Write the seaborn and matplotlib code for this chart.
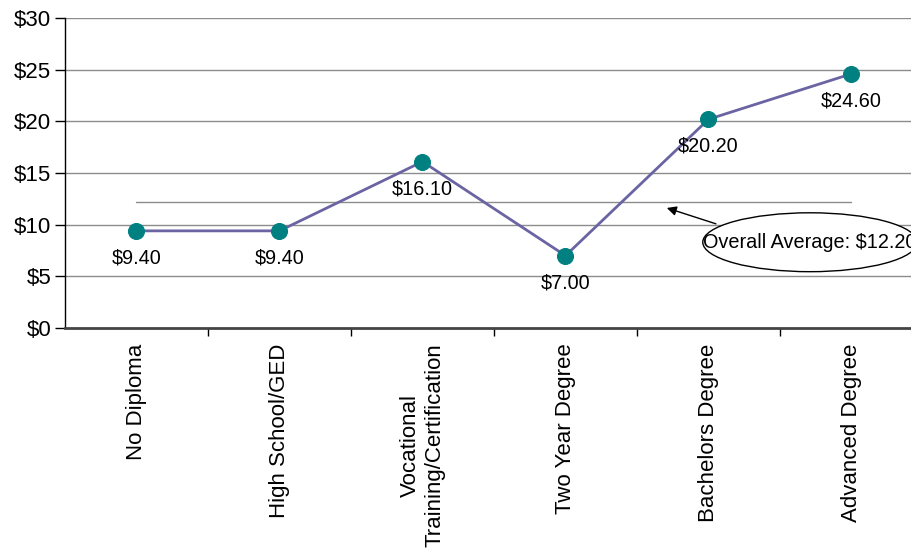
import matplotlib
matplotlib.use("Agg")
import matplotlib.pyplot as plt
from matplotlib.patches import Ellipse
import seaborn as sns
import pandas as pd
import numpy as np

categories = ["No Diploma", "High School/GED", "Vocational\nTraining/Certification",
              "Two Year Degree", "Bachelors Degree", "Advanced Degree"]
wages = [9.40, 9.40, 16.10, 7.00, 20.20, 24.60]
wage_labels = ["$9.40", "$9.40", "$16.10", "$7.00", "$20.20", "$24.60"]
overall_average = 12.20
y_ticks = [0, 5, 10, 15, 20, 25, 30]
y_tick_labels = ["$0", "$5", "$10", "$15", "$20", "$25", "$30"]

sns.set_style("white")
plt.rcParams["font.family"] = ["Liberation Sans", "DejaVu Sans"]

df = pd.DataFrame({"pos": np.arange(len(categories)), "wage": wages})

fig = plt.figure(figsize=(9.12, 5.50), dpi=100)
ax = fig.add_axes([65 / 912, 1 - 328 / 550, 858 / 912, 310 / 550])

ax.set_xlim(-0.5, len(categories) - 0.5)
ax.set_ylim(0, 30)

grid_color = "#8c8c8c"
for yv in y_ticks[1:]:
    ax.axhline(yv, color=grid_color, lw=1.0, zorder=1)

# overall average reference line
ax.plot([0, len(categories) - 1], [overall_average, overall_average],
        color=grid_color, lw=1.0, zorder=1)

sns.lineplot(data=df, x="pos", y="wage", ax=ax, color="#6a64a2", lw=2.0,
             marker="o", markersize=11.5, markerfacecolor="#008080",
             markeredgecolor="#008080", zorder=3)

for i, (v, lab) in enumerate(zip(wages, wage_labels)):
    ax.annotate(lab, (i, v), xytext=(0, -19.5), textcoords="offset points",
                ha="center", va="center", fontsize=14.3, color="black")

# callout for the overall average
ax.annotate("", xy=(3.69, 11.7), xytext=(4.07, 10.0),
            arrowprops=dict(arrowstyle="-|>", color="black", lw=1.0,
                            mutation_scale=14))
ell = Ellipse((4.71, 8.3), width=1.50, height=5.7, facecolor="white",
              edgecolor="black", lw=1.0, zorder=4, clip_on=False)
ax.add_patch(ell)
ax.text(4.71, 8.3, "Overall Average: $12.20", ha="center", va="center",
        fontsize=14.3, color="black", zorder=5, clip_on=False)

for side in ["top", "right"]:
    ax.spines[side].set_visible(False)
ax.spines["left"].set_color("black")
ax.spines["left"].set_linewidth(1.0)
ax.spines["bottom"].set_color("#444444")
ax.spines["bottom"].set_linewidth(2.0)

ax.set_yticks(y_ticks)
ax.set_yticklabels(y_tick_labels, fontsize=16)
ax.tick_params(axis="y", length=7, width=1, color="black", labelcolor="black",
               direction="out", left=True, pad=3)

ax.set_xticks(np.arange(len(categories)))
ax.set_xticklabels(categories, rotation=90, fontsize=16, va="top", ha="center",
                   multialignment="center")
ax.tick_params(axis="x", which="major", length=0, pad=11, labelcolor="black")
ax.set_xticks(np.arange(len(categories)) + 0.5, minor=True)
ax.tick_params(axis="x", which="minor", length=6, width=1, color="black",
               direction="out", bottom=True)

ax.set_xlabel("")
ax.set_ylabel("")

fig.savefig("out.png", dpi=100)
